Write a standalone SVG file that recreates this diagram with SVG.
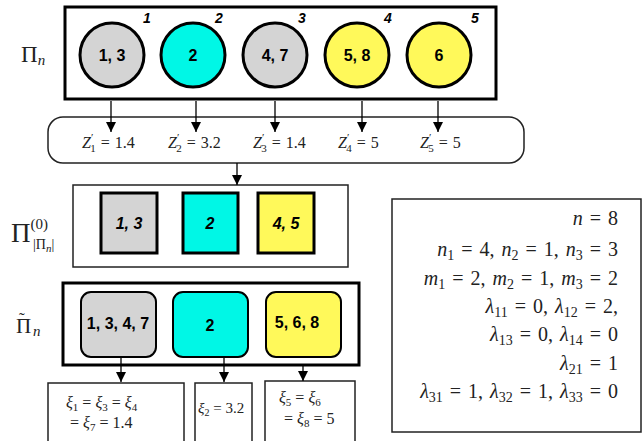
<svg xmlns="http://www.w3.org/2000/svg" width="644" height="441" viewBox="0 0 644 441">
<style>
.sans{font-family:"Liberation Sans",Arial,sans-serif;font-weight:bold;fill:#000}
.it{font-style:italic}
.m{font-family:"Liberation Serif","Times New Roman",serif;font-style:normal;fill:#222}
.mi{font-family:"Liberation Serif","Times New Roman",serif;font-style:italic;fill:#222}
.thick{stroke:#000;stroke-width:3}
.thin{fill:#fff;stroke:#222;stroke-width:1.5}
.gray{fill:#d4d4d4}
.cyan{fill:#00f7e6}
.yel{fill:#fff95a}
.con{stroke:#000;stroke-width:1.3;fill:none;marker-end:url(#ah)}
</style>
<defs>
<marker id="ah" viewBox="0 0 10 10" refX="10" refY="5" markerWidth="10" markerHeight="10" markerUnits="userSpaceOnUse" orient="auto">
<path d="M0,0 L10,5 L0,10 z" fill="#000"/>
</marker>
</defs>
<rect width="644" height="441" fill="#fff"/>

<!-- Pi_n row -->
<g id="label-pin">
<text class="m" x="21" y="62" font-size="23">Π<tspan class="mi" font-size="15" dy="3">n</tspan></text>
</g>
<g id="pin-box"><rect x="65" y="7" width="431" height="92" fill="#fff" class="thick"/></g>
<g id="c1"><circle cx="112" cy="55" r="32" class="gray thick"/><text class="sans" x="112" y="61" font-size="16" text-anchor="middle">1, 3</text><text class="sans it" x="147" y="23" font-size="14" text-anchor="middle">1</text></g>
<g id="c2"><circle cx="193" cy="55" r="32" class="cyan thick"/><text class="sans" x="193" y="61" font-size="16" text-anchor="middle">2</text><text class="sans it" x="219" y="23" font-size="14" text-anchor="middle">2</text></g>
<g id="c3"><circle cx="275" cy="55" r="32" class="gray thick"/><text class="sans" x="275" y="61" font-size="16" text-anchor="middle">4, 7</text><text class="sans it" x="302" y="23" font-size="14" text-anchor="middle">3</text></g>
<g id="c4"><circle cx="357" cy="55" r="32" class="yel thick"/><text class="sans" x="357" y="61" font-size="16" text-anchor="middle">5, 8</text><text class="sans it" x="388" y="23" font-size="14" text-anchor="middle">4</text></g>
<g id="c5"><circle cx="439" cy="55" r="32" class="yel thick"/><text class="sans" x="439" y="61" font-size="16" text-anchor="middle">6</text><text class="sans it" x="475" y="23" font-size="14" text-anchor="middle">5</text></g>

<!-- Z' box -->
<g id="zbox">
<rect x="48" y="117" width="476" height="46" rx="15" ry="15" class="thin"/>
<g font-size="16" word-spacing="1">
<text class="mi" x="82" y="148">Z<tspan class="m" font-size="11" dy="-7">′</tspan><tspan class="m" font-size="11" dx="-3" dy="11">1</tspan><tspan class="m" dy="-4"> = 1.4</tspan></text>
<text class="mi" x="168" y="148">Z<tspan class="m" font-size="11" dy="-7">′</tspan><tspan class="m" font-size="11" dx="-3" dy="11">2</tspan><tspan class="m" dy="-4"> = 3.2</tspan></text>
<text class="mi" x="253" y="148">Z<tspan class="m" font-size="11" dy="-7">′</tspan><tspan class="m" font-size="11" dx="-3" dy="11">3</tspan><tspan class="m" dy="-4"> = 1.4</tspan></text>
<text class="mi" x="338" y="148">Z<tspan class="m" font-size="11" dy="-7">′</tspan><tspan class="m" font-size="11" dx="-3" dy="11">4</tspan><tspan class="m" dy="-4"> = 5</tspan></text>
<text class="mi" x="420" y="148">Z<tspan class="m" font-size="11" dy="-7">′</tspan><tspan class="m" font-size="11" dx="-3" dy="11">5</tspan><tspan class="m" dy="-4"> = 5</tspan></text>
</g>
</g>

<!-- Pi^(0) row -->
<g id="label-pi0">
<text class="m" x="11" y="242" font-size="27">Π<tspan font-size="15" dy="-13">(0)</tspan></text>
<text class="m" x="33" y="249" font-size="14">|Π<tspan class="mi" font-size="11" dy="3">n</tspan><tspan dy="-3">|</tspan></text>
</g>
<g id="pi0-box"><rect x="73" y="185" width="275" height="82" class="thin"/></g>
<g id="s1"><rect x="101" y="193" width="56" height="60" class="gray thick"/><text class="sans it" x="129" y="229" font-size="16" text-anchor="middle">1, 3</text></g>
<g id="s2"><rect x="183" y="193" width="55" height="60" class="cyan thick"/><text class="sans it" x="210" y="229" font-size="16" text-anchor="middle">2</text></g>
<g id="s3"><rect x="258" y="193" width="56" height="60" class="yel thick"/><text class="sans it" x="286" y="229" font-size="16" text-anchor="middle">4, 5</text></g>

<!-- Pi tilde row -->
<g id="label-pit">
<text class="m" x="16" y="333" font-size="21">Π<tspan font-size="17" x="19" y="324">˜</tspan><tspan class="mi" font-size="15" x="33" y="336">n</tspan></text>
</g>
<g id="pit-box"><rect x="63" y="283" width="296" height="82" fill="#fff" class="thick"/></g>
<g id="r1"><rect x="81" y="292" width="75" height="65" rx="10" ry="10" class="gray" stroke="#000" stroke-width="2"/><text class="sans" x="118" y="329" font-size="16" text-anchor="middle">1, 3, 4, 7</text></g>
<g id="r2"><rect x="173" y="292" width="75" height="65" rx="10" ry="10" class="cyan" stroke="#000" stroke-width="2"/><text class="sans" x="210" y="331" font-size="16" text-anchor="middle">2</text></g>
<g id="r3"><rect x="266" y="292" width="75" height="65" rx="10" ry="10" class="yel" stroke="#000" stroke-width="2"/><text class="sans" x="297" y="328" font-size="16" text-anchor="middle">5, 6, 8</text></g>

<!-- xi boxes -->
<g id="xi1"><rect x="48" y="383" width="136" height="62" class="thin"/>
<text class="mi" x="66" y="408" font-size="16">ξ<tspan class="m" font-size="11" dy="3">1</tspan><tspan class="m" dy="-3"> = </tspan>ξ<tspan class="m" font-size="11" dy="3">3</tspan><tspan class="m" dy="-3"> = </tspan>ξ<tspan class="m" font-size="11" dy="3">4</tspan></text>
<text class="m" x="70" y="428" font-size="16">= <tspan class="mi">ξ</tspan><tspan font-size="11" dy="3">7</tspan><tspan dy="-3"> = 1.4</tspan></text>
</g>
<g id="xi2"><rect x="195" y="383" width="57" height="62" class="thin"/>
<text class="mi" x="198" y="413" font-size="15">ξ<tspan class="m" font-size="10" dy="3">2</tspan><tspan class="m" dy="-3"> = 3.2</tspan></text>
</g>
<g id="xi3"><rect x="265" y="381" width="90" height="64" class="thin"/>
<text class="mi" x="279" y="403" font-size="16">ξ<tspan class="m" font-size="11" dy="3">5</tspan><tspan class="m" dy="-3"> = </tspan>ξ<tspan class="m" font-size="11" dy="3">6</tspan></text>
<text class="m" x="284" y="424" font-size="16">= <tspan class="mi">ξ</tspan><tspan font-size="11" dy="3">8</tspan><tspan dy="-3"> = 5</tspan></text>
</g>

<!-- right info box -->
<g id="info">
<rect x="392" y="199" width="249" height="233" class="thin"/>
<g font-size="20" text-anchor="end" word-spacing="2">
<text class="m" x="618" y="225"><tspan class="mi">n</tspan> = 8</text>
<text class="m" x="618" y="256"><tspan class="mi">n</tspan><tspan font-size="14" dy="4">1</tspan><tspan dy="-4"> = 4, </tspan><tspan class="mi">n</tspan><tspan font-size="14" dy="4">2</tspan><tspan dy="-4"> = 1, </tspan><tspan class="mi">n</tspan><tspan font-size="14" dy="4">3</tspan><tspan dy="-4"> = 3</tspan></text>
<text class="m" x="618" y="285"><tspan class="mi">m</tspan><tspan font-size="14" dy="4">1</tspan><tspan dy="-4"> = 2, </tspan><tspan class="mi">m</tspan><tspan font-size="14" dy="4">2</tspan><tspan dy="-4"> = 1, </tspan><tspan class="mi">m</tspan><tspan font-size="14" dy="4">3</tspan><tspan dy="-4"> = 2</tspan></text>
<text class="m" x="618" y="313"><tspan class="mi">λ</tspan><tspan font-size="14" dy="4">11</tspan><tspan dy="-4"> = 0, </tspan><tspan class="mi">λ</tspan><tspan font-size="14" dy="4">12</tspan><tspan dy="-4"> = 2,</tspan></text>
<text class="m" x="618" y="341"><tspan class="mi">λ</tspan><tspan font-size="14" dy="4">13</tspan><tspan dy="-4"> = 0, </tspan><tspan class="mi">λ</tspan><tspan font-size="14" dy="4">14</tspan><tspan dy="-4"> = 0</tspan></text>
<text class="m" x="618" y="370"><tspan class="mi">λ</tspan><tspan font-size="14" dy="4">21</tspan><tspan dy="-4"> = 1</tspan></text>
<text class="m" x="618" y="398"><tspan class="mi">λ</tspan><tspan font-size="14" dy="4">31</tspan><tspan dy="-4"> = 1, </tspan><tspan class="mi">λ</tspan><tspan font-size="14" dy="4">32</tspan><tspan dy="-4"> = 1, </tspan><tspan class="mi">λ</tspan><tspan font-size="14" dy="4">33</tspan><tspan dy="-4"> = 0</tspan></text>
</g>
</g>

<!-- connectors -->
<g id="connectors">
<line x1="111" y1="101" x2="111" y2="132" class="con"/>
<line x1="196" y1="101" x2="196" y2="132" class="con"/>
<line x1="275" y1="101" x2="275" y2="132" class="con"/>
<line x1="362" y1="101" x2="362" y2="132" class="con"/>
<line x1="438" y1="101" x2="438" y2="132" class="con"/>
<line x1="237" y1="163" x2="237" y2="185" class="con"/>
<line x1="121" y1="357" x2="121" y2="382" class="con"/>
<line x1="224" y1="357" x2="224" y2="382" class="con"/>
<line x1="303" y1="365" x2="303" y2="381" class="con"/>
</g>
</svg>
